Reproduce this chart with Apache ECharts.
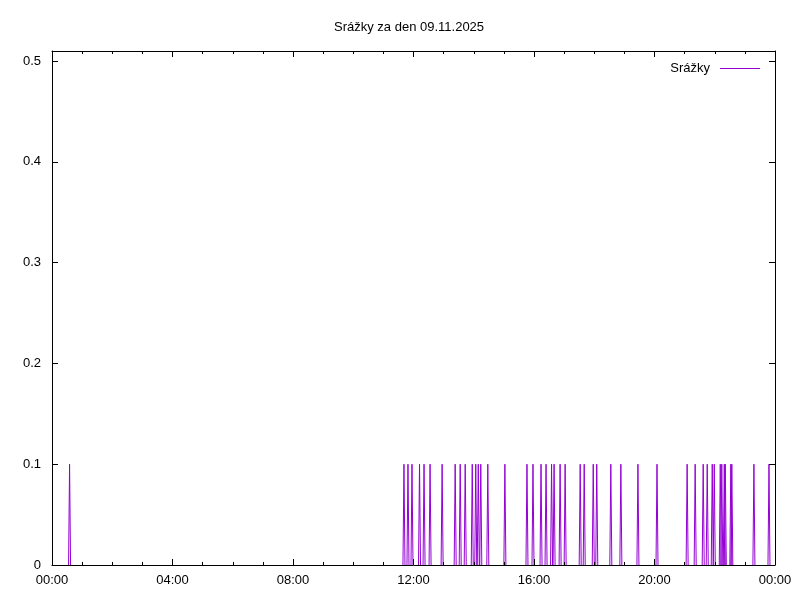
<!DOCTYPE html>
<html>
<head>
<meta charset="utf-8">
<script src="https://cdn.jsdelivr.net/npm/echarts@6/dist/echarts.min.js"></script>
<style>html,body{margin:0;padding:0;background:#fff;}#c{width:800px;height:600px;}</style>
</head>
<body>
<div id="c"></div>
<script>
// Data: times of precipitation events (HH:MM) and their values (mm)
const eventTimes = ['00:35','11:41','11:49','11:57','12:12','12:21','12:33','12:57','13:23','13:33','13:43','13:57','14:04','14:09','14:14','14:28','15:02','15:46','15:58','16:14','16:24','16:35','16:40','16:52','17:02','17:32','17:40','17:58','18:05','18:33','18:53','19:27','20:05','21:05','21:21','21:37','21:45','21:55','21:59','22:11','22:14','22:19','22:21','22:32','22:34','23:18','23:48'];
const eventValues = [0.1,0.1,0.1,0.1,0.1,0.1,0.1,0.1,0.1,0.1,0.1,0.1,0.1,0.1,0.1,0.1,0.1,0.1,0.1,0.1,0.1,0.1,0.1,0.1,0.1,0.1,0.1,0.1,0.1,0.1,0.1,0.1,0.1,0.1,0.1,0.1,0.1,0.1,0.1,0.1,0.1,0.1,0.1,0.1,0.1,0.1,0.1];
const sampleStep = 2; // minutes between samples in the source record
const seriesName = 'Srážky';
const titleText = 'Srážky za den 09.11.2025';
const yTicks = [0, 0.1, 0.2, 0.3, 0.4, 0.5];
const xTickLabels = ['00:00','04:00','08:00','12:00','16:00','20:00','00:00'];

function toMin(s){const p=s.split(':');return (+p[0])*60+(+p[1]);}
const lineData = [];
eventTimes.forEach((t,i)=>{
  const m = toMin(t);
  lineData.push([m - sampleStep, 0]);
  lineData.push([m, eventValues[i]]);
  lineData.push([m + sampleStep, 0]);
  lineData.push([m + sampleStep + 0.5, null]);
});

const FONT = 'Liberation Sans';
const fmtX = v => { const i = Math.round(v/240); return xTickLabels[i] !== undefined && Math.abs(v - i*240) < 0.01 ? xTickLabels[i] : ''; };
const fmtY = v => { const f = yTicks.find(t => Math.abs(t - v) < 1e-9); return f === undefined ? '' : String(f); };

const baseX = {
  type: 'value', min: 0, max: 1440, interval: 240, z: 10,
  axisLine: {show: true, onZero: false, lineStyle: {color: '#000', width: 1}},
  axisTick: {show: true, inside: true, length: 6, lineStyle: {color: '#000'}},
  minorTick: {show: true, splitNumber: 4, length: 3, lineStyle: {color: '#000'}},
  splitLine: {show: false},
  axisLabel: {show: true, color: '#000', fontFamily: FONT, fontSize: 13, margin: 9, formatter: fmtX, showMaxLabel: true, showMinLabel: true}
};
const baseY = {
  type: 'value', min: 0, max: 0.51, interval: 0.1, z: 10,
  axisLine: {show: true, onZero: false, lineStyle: {color: '#000', width: 1}},
  axisTick: {show: true, inside: true, length: 6, lineStyle: {color: '#000'}},
  splitLine: {show: false},
  axisLabel: {show: true, color: '#000', fontFamily: FONT, fontSize: 13, margin: 11, formatter: fmtY}
};

const chart = echarts.init(document.getElementById('c'), null, {renderer: 'canvas'});
chart.setOption({
  animation: false,
  backgroundColor: '#fff',
  title: {text: titleText, left: 329, top: 16,
    textStyle: {fontFamily: FONT, fontSize: 13, fontWeight: 'normal', color: '#000'}},
  legend: {
    show: true, right: 35, top: 57, align: 'right', icon: 'rect', itemWidth: 40, itemHeight: 1, itemGap: 10,
    textStyle: {fontFamily: FONT, fontSize: 13, color: '#000', padding: [0, 5, 0, 0]},
    data: [seriesName]
  },
  grid: {left: 52, right: 25, top: 51, bottom: 35, containLabel: false},
  xAxis: [
    Object.assign({}, baseX, {position: 'bottom'}),
    Object.assign({}, baseX, {position: 'top', axisLabel: {show: false}})
  ],
  yAxis: [
    Object.assign({}, baseY, {position: 'left'}),
    Object.assign({}, baseY, {position: 'right', axisLabel: {show: false}})
  ],
  series: [{
    name: seriesName, type: 'line', xAxisIndex: 0, yAxisIndex: 0,
    data: lineData, showSymbol: false, connectNulls: false,
    lineStyle: {color: '#9400d3', width: 1}, itemStyle: {color: '#9400d3'}
  }]
});
</script>
</body>
</html>
